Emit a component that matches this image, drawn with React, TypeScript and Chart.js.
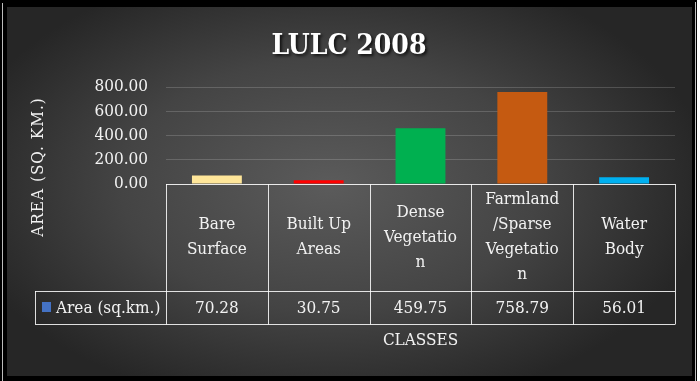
import React, { useEffect, useRef } from "react";
import { Chart, registerables } from "chart.js";

Chart.register(...registerables);

const categories: string[][] = [
  ["Bare", "Surface"],
  ["Built Up", "Areas"],
  ["Dense", "Vegetatio", "n"],
  ["Farmland", "/Sparse", "Vegetatio", "n"],
  ["Water", "Body"],
];
const areaValues: number[] = [70.28, 30.75, 459.75, 758.79, 56.01];
const valueLabels: string[] = ["70.28", "30.75", "459.75", "758.79", "56.01"];
const barColors: string[] = ["#FFE699", "#FF0000", "#00B050", "#C55A11", "#00B0F0"];
const seriesName = "Area (sq.km.)";
const chartTitle = "LULC 2008";
const yTitle = "AREA (SQ. KM.)";
const xTitle = "CLASSES";

const FONT = "'DejaVu Serif Condensed', 'Liberation Serif', serif";

const decorPlugin = {
  id: "decor",
  beforeDraw(chart: any) {
    const { ctx, width, height } = chart;
    ctx.save();
    ctx.fillStyle = "#ffffff";
    ctx.fillRect(0, 0, width, height);
    ctx.fillStyle = "#000000";
    ctx.fillRect(0, 0, 697, height);
    ctx.fillStyle = "#bdbdbd";
    ctx.fillRect(2, 3, 1, height - 3);
    ctx.fillRect(695, 2, 1, height - 2);
    const x0 = 7, y0 = 7, x1 = 692, y1 = 376;
    const cx = 330, cy = 185;
    ctx.beginPath();
    ctx.rect(x0, y0, x1 - x0, y1 - y0);
    ctx.clip();
    ctx.translate(cx, cy);
    ctx.scale(1, 0.6);
    const g = ctx.createRadialGradient(0, 0, 0, 0, 0, 380);
    g.addColorStop(0, "#5b5b5b");
    g.addColorStop(0.55, "#444444");
    g.addColorStop(1, "#262626");
    ctx.fillStyle = g;
    ctx.fillRect(-400, -400, 800, 800);
    ctx.restore();
  },
  afterDraw(chart: any) {
    const { ctx, chartArea } = chart;
    const left = chartArea.left;
    const right = chartArea.right;
    const top = chartArea.bottom;
    const n = categories.length;
    const colW = (right - left) / n;
    const rowMid = 291;
    const rowBot = 324;
    const legLeft = 35;
    ctx.save();
    ctx.font = `bold 28px ${FONT}`;
    ctx.textAlign = "center";
    ctx.textBaseline = "alphabetic";
    ctx.shadowColor = "rgba(0,0,0,0.7)";
    ctx.shadowOffsetX = 2;
    ctx.shadowOffsetY = 2;
    ctx.shadowBlur = 3;
    ctx.fillStyle = "#ffffff";
    ctx.fillText(chartTitle, 349, 54);
    ctx.shadowColor = "transparent";
    ctx.shadowBlur = 0;
    ctx.shadowOffsetX = 0;
    ctx.shadowOffsetY = 0;

    ctx.strokeStyle = "rgba(255,255,255,0.85)";
    ctx.lineWidth = 1;
    ctx.beginPath();
    const hl = (x1: number, x2: number, y: number) => {
      ctx.moveTo(x1, Math.round(y) + 0.5);
      ctx.lineTo(x2, Math.round(y) + 0.5);
    };
    const vl = (x: number, y1: number, y2: number) => {
      ctx.moveTo(Math.round(x) + 0.5, y1);
      ctx.lineTo(Math.round(x) + 0.5, y2);
    };
    hl(left, right, top);
    hl(legLeft, right, rowMid);
    hl(legLeft, right, rowBot);
    vl(legLeft, rowMid, rowBot);
    for (let i = 0; i <= n; i++) vl(left + i * colW, Math.round(top), rowBot + 0.5);
    ctx.stroke();

    ctx.fillStyle = "#f2f2f2";
    ctx.font = `17px ${FONT}`;
    ctx.textAlign = "center";
    ctx.textBaseline = "middle";
    const hMid = (top + rowMid) / 2;
    categories.forEach((lines, i) => {
      const cxp = left + (i + 0.5) * colW;
      lines.forEach((ln, j) => {
        ctx.fillText(ln, cxp, hMid + (j - (lines.length - 1) / 2) * 25);
      });
      ctx.fillText(valueLabels[i], cxp, (rowMid + rowBot) / 2 + 1);
    });
    ctx.fillStyle = "#4472C4";
    ctx.fillRect(42, 302, 9, 10);
    ctx.fillStyle = "#f2f2f2";
    ctx.textAlign = "left";
    ctx.fillText(seriesName, 56, (rowMid + rowBot) / 2 + 1);
    ctx.textAlign = "center";
    ctx.fillText(xTitle, (left + right) / 2, 341);
    ctx.translate(39, 167);
    ctx.rotate(-Math.PI / 2);
    try {
      (ctx as any).letterSpacing = "1px";
    } catch (e) {}
    ctx.fillText(yTitle, 0, 0);
    ctx.restore();
  },
};

export default function App() {
  const ref = useRef<HTMLCanvasElement | null>(null);
  useEffect(() => {
    document.body.style.margin = "0";
    const canvas = ref.current!;
    const chart = new Chart(canvas, {
      type: "bar",
      data: {
        labels: categories.map((c) => c.join(" ")),
        datasets: [
          {
            label: seriesName,
            data: areaValues,
            backgroundColor: barColors,
            borderWidth: 0,
            categoryPercentage: 1,
            barPercentage: 0.49,
          },
        ],
      },
      options: {
        responsive: false,
        animation: false,
        devicePixelRatio: 1,
        layout: { padding: { left: 0, right: 25, top: 87, bottom: 197 } },
        plugins: { legend: { display: false }, tooltip: { enabled: false }, title: { display: false } },
        scales: {
          x: {
            grid: { display: false },
            border: { display: false },
            ticks: { display: false },
            afterFit: (s: any) => {
              s.height = 0;
            },
          },
          y: {
            min: 0,
            max: 800,
            ticks: {
              stepSize: 200,
              autoSkip: false,
              color: "#f2f2f2",
              font: { family: FONT, size: 17 },
              padding: 18,
              callback: (v: any) => Number(v).toFixed(2),
            },
            grid: { color: "rgba(255,255,255,0.17)", drawTicks: false, lineWidth: 1 },
            border: { display: false },
            afterFit: (s: any) => {
              s.width = 166;
            },
          },
        },
      },
      plugins: [decorPlugin],
    });
    return () => chart.destroy();
  }, []);
  return (
    <div style={{ width: 700, height: 381 }}>
      <canvas ref={ref} width={700} height={381} style={{ display: "block" }} />
    </div>
  );
}
